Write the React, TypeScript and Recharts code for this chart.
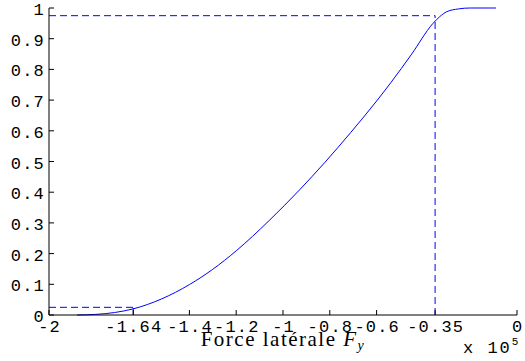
import { LineChart, Line, XAxis, YAxis, ReferenceLine } from 'recharts';

const forceX = [-1.88, -1.8, -1.72, -1.64, -1.52, -1.4, -1.3, -1.2, -1.06, -0.93, -0.82, -0.71, -0.6, -0.54, -0.45, -0.36, -0.33, -0.3, -0.25, -0.2, -0.09];
const cdfY = [0, 0.002, 0.008, 0.02, 0.052, 0.099, 0.149, 0.209, 0.307, 0.407, 0.498, 0.595, 0.697, 0.756, 0.85, 0.949, 0.972, 0.988, 0.997, 1, 1];

const quantileX = [-1.64, -0.35];
const quantileP = [0.025, 0.975];

const xTicks = [-2, -1.64, -1.4, -1.2, -1, -0.8, -0.6, -0.35, 0];
const yTicks = [0, 0.1, 0.2, 0.3, 0.4, 0.5, 0.6, 0.7, 0.8, 0.9, 1];

const data = forceX.map((x, i) => ({ x, y: cdfY[i] }));

const MONO = '"Liberation Mono", "DejaVu Sans Mono", monospace';
const SERIF = '"Liberation Serif", "DejaVu Serif", serif';
const BLUE = '#0000ff';
const TICK = 5;

const BottomTick = (props: any) => {
    const { x, y, payload } = props;
    return (
        <g>
            <line x1={x} y1={y} x2={x} y2={y - TICK} stroke="#000" />
            <text x={x + 0.6} y={y + 17} textAnchor="middle" fontFamily={MONO} fontSize={17} letterSpacing={1.2} fill="#000">
                {String(payload.value)}
            </text>
        </g>
    );
};

const TopTick = (props: any) => {
    const { x, y } = props;
    return <line x1={x} y1={y} x2={x} y2={y + TICK} stroke="#000" />;
};

const LeftTick = (props: any) => {
    const { x, y, payload } = props;
    return (
        <g>
            <line x1={x} y1={y} x2={x + TICK} y2={y} stroke="#000" />
            <text x={x - 4} y={y + 7} textAnchor="end" fontFamily={MONO} fontSize={17} letterSpacing={1.2} fill="#000">
                {String(payload.value)}
            </text>
        </g>
    );
};

const RightTick = (props: any) => {
    const { x, y } = props;
    return <line x1={x} y1={y} x2={x - TICK} y2={y} stroke="#000" />;
};

const AxisTitle = (props: any) => {
    const { viewBox } = props;
    const { x, y, width } = viewBox;
    return (
        <g>
            <text x={x + width / 2} y={y + 31} textAnchor="middle" fontFamily={SERIF} fontSize={21} letterSpacing={1.5} fill="#000">
                Force latérale <tspan fontStyle="italic">F</tspan>
                <tspan fontStyle="italic" fontSize={14} dy={4}>y</tspan>
            </text>
            <text x={x + width - 54} y={y + 38} fontFamily={MONO} fontSize={17} letterSpacing={2} fill="#000">
                x 10<tspan fontSize={11} dy={-8}>5</tspan>
            </text>
        </g>
    );
};

export default function App() {
    return (
        <div style={{ position: 'absolute', left: 0, top: 0, width: 525, height: 361, background: '#fff' }}>
            <LineChart width={525} height={361} data={data} margin={{ top: 8, right: 8, left: 0, bottom: 0 }}>
                <XAxis
                    dataKey="x"
                    type="number"
                    domain={[-2, 0]}
                    ticks={xTicks}
                    interval={0}
                    tickSize={0}
                    tickMargin={0}
                    tickLine={false}
                    tick={<BottomTick />}
                    axisLine={{ stroke: '#000' }}
                    height={46}
                    label={{ content: <AxisTitle /> }}
                />
                <XAxis
                    xAxisId="top"
                    orientation="top"
                    dataKey="x"
                    type="number"
                    domain={[-2, 0]}
                    ticks={xTicks}
                    interval={0}
                    tickSize={0}
                    tickMargin={0}
                    tickLine={false}
                    tick={<TopTick />}
                    axisLine={{ stroke: '#000' }}
                    height={0}
                />
                <YAxis
                    type="number"
                    domain={[0, 1]}
                    ticks={yTicks}
                    interval={0}
                    tickSize={0}
                    tickMargin={0}
                    tickLine={false}
                    tick={<LeftTick />}
                    axisLine={{ stroke: '#000' }}
                    width={49}
                />
                <YAxis
                    yAxisId="right"
                    orientation="right"
                    type="number"
                    domain={[0, 1]}
                    ticks={yTicks}
                    interval={0}
                    tickSize={0}
                    tickMargin={0}
                    tickLine={false}
                    tick={<RightTick />}
                    axisLine={{ stroke: '#000' }}
                    width={0}
                />
                <ReferenceLine segment={[{ x: -2, y: quantileP[0] }, { x: quantileX[0], y: quantileP[0] }]} stroke={BLUE} strokeDasharray="7 4" />
                <ReferenceLine segment={[{ x: quantileX[0], y: 0 }, { x: quantileX[0], y: quantileP[0] }]} stroke={BLUE} strokeDasharray="7 4" />
                <ReferenceLine segment={[{ x: -2, y: quantileP[1] }, { x: quantileX[1], y: quantileP[1] }]} stroke={BLUE} strokeDasharray="7 4" />
                <ReferenceLine segment={[{ x: quantileX[1], y: 0 }, { x: quantileX[1], y: quantileP[1] }]} stroke={BLUE} strokeDasharray="7 4" />
                <Line dataKey="y" type="monotone" stroke={BLUE} strokeWidth={1} dot={false} isAnimationActive={false} />
            </LineChart>
        </div>
    );
}
